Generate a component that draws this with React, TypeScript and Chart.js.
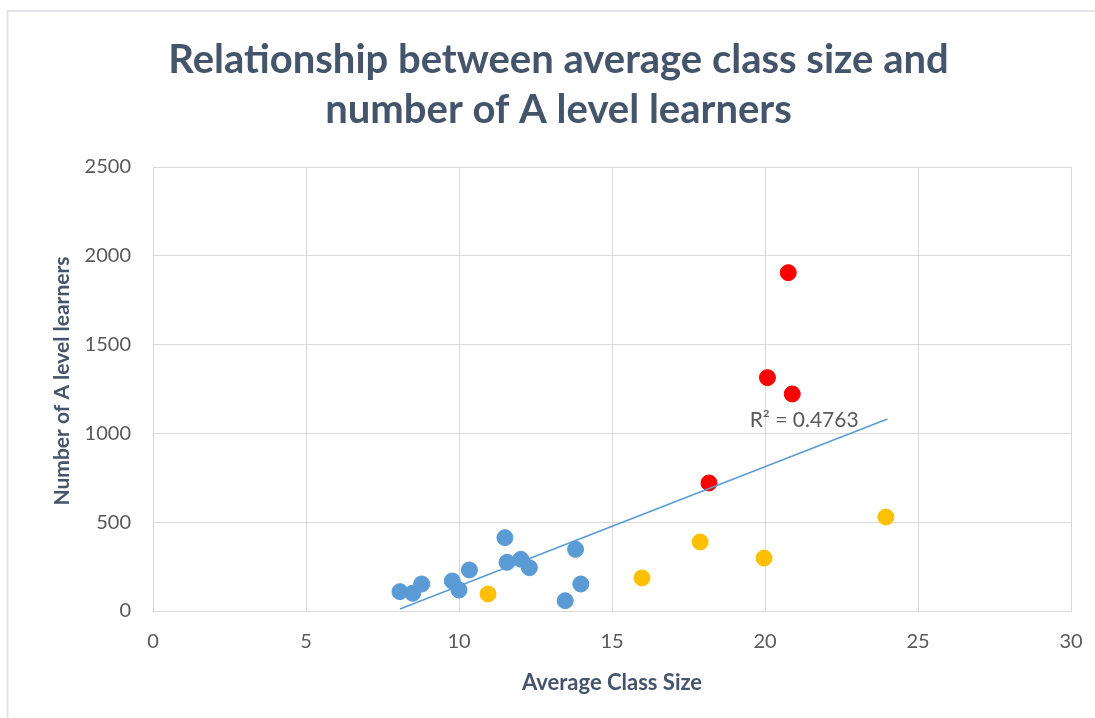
import React, { useEffect, useRef } from "react";
import { Chart, registerables } from "chart.js";

Chart.register(...registerables);

const blueX = [8.07, 8.49, 8.78, 9.78, 10.0, 10.34, 11.5, 11.57, 12.02, 12.3, 13.81, 13.98, 13.47];
const blueY = [109, 100, 152, 169, 118, 231, 413, 274, 291, 244, 347, 152, 58];
const yellowX = [10.95, 15.98, 17.88, 19.97, 23.95];
const yellowY = [96, 186, 389, 298, 529];
const redX = [20.76, 20.08, 20.89, 18.17];
const redY = [1905, 1314, 1222, 721];
const trendX = [8.07, 24.0];
const trendY = [11, 1081];
const titleLines = ["Relationship between average class size and", "number of A level learners"];
const xTitle = "Average Class Size";
const yTitle = "Number of A level learners";
const rSquaredLabel = "R² = 0.4763";
const rLabelPos = { x: 19.5, y: 1075 };

const FONT = "Lato, 'Open Sans', sans-serif";

const zip = (xs: number[], ys: number[]) => xs.map((x, i) => ({ x, y: ys[i] }));

const decor = {
  id: "decor",
  beforeDraw(chart: any) {
    const ctx = chart.ctx;
    ctx.save();
    ctx.fillStyle = "#ffffff";
    ctx.fillRect(0, 0, chart.width, chart.height);
    ctx.strokeStyle = "#E1E5EA";
    ctx.lineWidth = 2;
    ctx.beginPath();
    ctx.moveTo(7.5, chart.height);
    ctx.lineTo(7.5, 11);
    ctx.lineTo(chart.width, 11);
    ctx.stroke();
    ctx.restore();
  },
  afterDraw(chart: any) {
    const ctx = chart.ctx;
    const xs = chart.scales.x;
    const ys = chart.scales.y;
    ctx.save();
    // chart title
    ctx.font = "bold 40px " + FONT;
    ctx.fillStyle = "#44546A";
    ctx.textAlign = "center";
    ctx.textBaseline = "middle";
    ctx.fillText(titleLines[0], 558.5, 60);
    ctx.fillText(titleLines[1], 558.5, 110);
    // y axis title
    ctx.save();
    ctx.translate(62, 381);
    ctx.rotate(-Math.PI / 2);
    ctx.font = "bold 21px " + FONT;
    ctx.fillText(yTitle, 0, 0);
    ctx.restore();
    // R² label
    ctx.font = "21px " + FONT;
    ctx.fillStyle = "#595959";
    ctx.textAlign = "left";
    ctx.fillText(rSquaredLabel, xs.getPixelForValue(rLabelPos.x), ys.getPixelForValue(rLabelPos.y));
    ctx.restore();
  },
};

export default function App() {
  const ref = useRef<HTMLCanvasElement>(null);
  useEffect(() => {
    if (!ref.current) return;
    const chart = new Chart(ref.current, {
      type: "scatter",
      data: {
        datasets: [
          {
            type: "line",
            data: zip(trendX, trendY),
            borderColor: "#5B9BD5",
            borderWidth: 1.5,
            pointRadius: 0,
            showLine: true,
            fill: false,
            order: 0,
          } as any,
          {
            data: zip(blueX, blueY),
            backgroundColor: "#5B9BD5",
            borderColor: "#5B9BD5",
            pointRadius: 8,
            order: 1,
          },
          {
            data: zip(yellowX, yellowY),
            backgroundColor: "#FFC000",
            borderColor: "#FFC000",
            pointRadius: 8,
            order: 1,
          },
          {
            data: zip(redX, redY),
            backgroundColor: "#FF0000",
            borderColor: "#FF0000",
            pointRadius: 8,
            order: 1,
          },
        ],
      },
      options: {
        responsive: false,
        animation: false,
        layout: { padding: { left: 0, right: 24, top: 167, bottom: 0 } },
        plugins: {
          legend: { display: false },
          tooltip: { enabled: false },
          title: { display: false },
        },
        scales: {
          x: {
            type: "linear",
            min: 0,
            max: 30,
            afterFit: (s: any) => {
              s.height = 107;
            },
            ticks: {
              stepSize: 5,
              color: "#595959",
              font: { family: FONT, size: 20 },
              padding: 5,
              callback: (v: any) => String(v),
            },
            grid: { color: "#D9D9D9", drawTicks: true, tickLength: 14, tickColor: "rgba(0,0,0,0)" },
            border: { color: "#D9D9D9" },
            title: {
              display: true,
              text: xTitle,
              color: "#44546A",
              font: { family: FONT, size: 22, weight: "bold" },
              padding: { top: 22, bottom: 22 },
            },
          },
          y: {
            type: "linear",
            min: 0,
            max: 2500,
            afterFit: (s: any) => {
              s.width = 153;
            },
            ticks: {
              stepSize: 500,
              color: "#595959",
              font: { family: FONT, size: 20 },
              padding: 22,
              callback: (v: any) => String(v),
            },
            grid: { color: "#D9D9D9", drawTicks: false },
            border: { color: "#D9D9D9" },
            title: { display: false },
          },
        },
      },
      plugins: [decor],
    });
    return () => chart.destroy();
  }, []);
  return (
    <div style={{ position: "fixed", left: 0, top: 0, width: 1095, height: 718 }}>
      <canvas ref={ref} width={1095} height={718} style={{ display: "block" }} />
    </div>
  );
}
